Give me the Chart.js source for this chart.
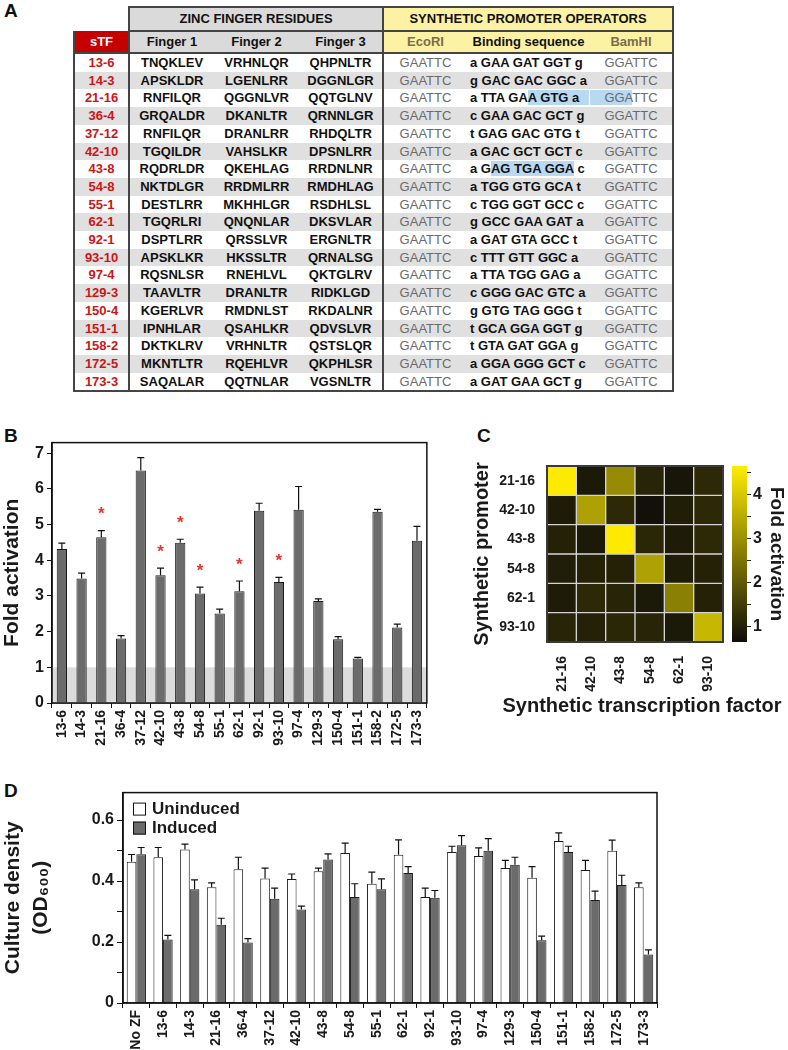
<!DOCTYPE html>
<html>
<head>
<meta charset="utf-8">
<script src="https://cdn.jsdelivr.net/npm/chart.js@4.4.1/dist/chart.umd.min.js"></script>
<style>
body { margin: 0; background: #fff; font-family: 'Liberation Sans', Arial, sans-serif; }
#page { position: relative; width: 788px; height: 1050px; overflow: hidden; }
.lbl { position: absolute; font-weight: bold; font-size: 19px; color: #111; }
canvas { position: absolute; }
#tbl { position: absolute; left: 73px; top: 6px; border-collapse: collapse; table-layout: fixed; font-size: 13px; font-weight: bold; color: #111; }
#tbl td { padding: 0; text-align: center; white-space: nowrap; height: 17.7px; line-height: 17.7px; }
#tbl tr.h1 td { height: 22px; line-height: 22px; }
#tbl tr.h2 td { height: 20px; line-height: 20px; border-bottom: 2px solid #444; }
#tbl td.zf { background: #dadada; }
#tbl td.sp { background: #fdf2a4; }
#tbl tr.h1 td.zf, #tbl tr.h1 td.sp { border: 2px solid #444; }
#tbl td.stf { background: #c40000; color: #fff; }
#tbl td.lb { border-left: 2px solid #444; }
#tbl td.rb { border-right: 2px solid #444; }
#tbl td.name { color: #cc1515; }
#tbl td.site { color: #6a6a6a; font-weight: normal; }
#tbl tr.h2 td.site { color: #7a6c4c; font-weight: bold; }
#tbl td.seq { text-align: left; padding-left: 3px; }
#tbl tr.stripe td { background: #e0e0e0; }
#tbl tr.last td { border-bottom: 2px solid #444; }
.hl { background: #b9d8f2; }
.hlx { background: #b9d8f2; padding-right: 10px; }
.hl2 { background: #b9d8f2; padding-left: 14px; margin-left: -14px; }
</style>
</head>
<body>
<div id="page">
  <div class="lbl" style="left:4px;top:0px;">A</div>
  <div class="lbl" style="left:4px;top:425px;">B</div>
  <div class="lbl" style="left:477px;top:425px;">C</div>
  <div class="lbl" style="left:4px;top:780px;">D</div>
  <table id="tbl"></table>
  <canvas id="chartB" width="436" height="330" style="left:0px;top:430px;"></canvas>
  <canvas id="chartC" width="318" height="280" style="left:470px;top:440px;"></canvas>
  <canvas id="chartBar" width="62" height="215" style="left:726px;top:440px;"></canvas>
  <canvas id="chartD" width="670" height="270" style="left:0px;top:780px;"></canvas>
</div>
<script>
// panel A table
const stfNames = ['13-6', '14-3', '21-16', '36-4', '37-12', '42-10', '43-8', '54-8', '55-1', '62-1',
    '92-1', '93-10', '97-4', '129-3', '150-4', '151-1', '158-2', '172-5', '173-3'];
const finger1 = ['TNQKLEV', 'APSKLDR', 'RNFILQR', 'GRQALDR', 'RNFILQR', 'TGQILDR', 'RQDRLDR', 'NKTDLGR', 'DESTLRR', 'TGQRLRI',
    'DSPTLRR', 'APSKLKR', 'RQSNLSR', 'TAAVLTR', 'KGERLVR', 'IPNHLAR', 'DKTKLRV', 'MKNTLTR', 'SAQALAR'];
const finger2 = ['VRHNLQR', 'LGENLRR', 'QGGNLVR', 'DKANLTR', 'DRANLRR', 'VAHSLKR', 'QKEHLAG', 'RRDMLRR', 'MKHHLGR', 'QNQNLAR',
    'QRSSLVR', 'HKSSLTR', 'RNEHLVL', 'DRANLTR', 'RMDNLST', 'QSAHLKR', 'VRHNLTR', 'RQEHLVR', 'QQTNLAR'];
const finger3 = ['QHPNLTR', 'DGGNLGR', 'QQTGLNV', 'QRNNLGR', 'RHDQLTR', 'DPSNLRR', 'RRDNLNR', 'RMDHLAG', 'RSDHLSL', 'DKSVLAR',
    'ERGNLTR', 'QRNALSG', 'QKTGLRV', 'RIDKLGD', 'RKDALNR', 'QDVSLVR', 'QSTSLQR', 'QKPHLSR', 'VGSNLTR'];
// [..] marks the blue highlighted stretch, (..) one that runs on into the next cell
const bindingSeqs = ['a GAA GAT GGT g', 'g GAC GAC GGC a', 'a TTA GA(A GTG a)', 'c GAA GAC GCT g', 't GAG GAC GTG t',
    'a GAC GCT GCT c', 'a G[AG TGA GGA] c', 'a TGG GTG GCA t', 'c TGG GGT GCC c', 'g GCC GAA GAT a',
    'a GAT GTA GCC t', 'c TTT GTT GGC a', 'a TTA TGG GAG a', 'c GGG GAC GTC a', 'g GTG TAG GGG t',
    't GCA GGA GGT g', 't GTA GAT GGA g', 'a GGA GGG GCT c', 'a GAT GAA GCT g'];
const ecoSites = stfNames.map(() => 'GAATTC');
const bamSites = stfNames.map(n => n === '21-16' ? '{GGA}TTC' : 'GGATTC');
const colWidths = [55, 85, 85, 84, 84, 123, 83];

// panel B
const bLabels = stfNames;
const bFold = [4.32, 3.49, 4.65, 1.81, 6.52, 3.58, 4.49, 3.07, 2.51, 3.13,
    5.39, 3.39, 5.42, 2.86, 1.79, 1.25, 5.36, 2.12, 4.55];
const bSd = [0.16, 0.15, 0.18, 0.08, 0.36, 0.20, 0.10, 0.18, 0.12, 0.29,
    0.21, 0.13, 0.65, 0.06, 0.07, 0.03, 0.07, 0.09, 0.40];
const bSig = [0, 0, 1, 0, 0, 1, 1, 1, 0, 1, 0, 1, 0, 0, 0, 0, 0, 0, 0];
const bTicks = [0, 1, 2, 3, 4, 5, 6, 7];

// panel C
const hmFactors = ['21-16', '42-10', '43-8', '54-8', '62-1', '93-10'];
const hmPromoters = ['21-16', '42-10', '43-8', '54-8', '62-1', '93-10'];
const hmFold = [
    [4.6, 0.85, 2.9, 1.05, 0.8, 1.15],
    [0.9, 3.3, 1.15, 0.7, 0.95, 1.15],
    [1.0, 0.85, 4.6, 1.1, 0.9, 1.15],
    [0.95, 1.0, 1.0, 3.3, 0.9, 1.0],
    [0.9, 1.15, 1.05, 0.85, 2.7, 1.0],
    [1.05, 1.0, 1.1, 1.05, 0.85, 3.7]
];
const cMin = 0.64, cMax = 4.64;
const cTicks = [1, 1.5, 2, 2.5, 3, 3.5, 4, 4.5];

// panel D
const dLabels = ['No ZF'].concat(stfNames);
const dUninduced = [0.463, 0.478, 0.503, 0.380, 0.439, 0.408, 0.407, 0.432, 0.492, 0.391,
    0.486, 0.348, 0.495, 0.482, 0.443, 0.411, 0.531, 0.436, 0.499, 0.380];
const dUninducedSd = [0.024, 0.032, 0.018, 0.014, 0.039, 0.034, 0.016, 0.010, 0.032, 0.038,
    0.049, 0.029, 0.019, 0.027, 0.025, 0.036, 0.027, 0.032, 0.035, 0.014];
const dInduced = [0.488, 0.208, 0.373, 0.257, 0.198, 0.342, 0.307, 0.471, 0.348, 0.373,
    0.426, 0.345, 0.517, 0.499, 0.453, 0.206, 0.495, 0.338, 0.387, 0.159];
const dInducedSd = [0.022, 0.014, 0.031, 0.021, 0.013, 0.035, 0.011, 0.018, 0.043, 0.034,
    0.021, 0.024, 0.032, 0.040, 0.025, 0.013, 0.019, 0.029, 0.032, 0.015];
const dTicks = [0, 0.1, 0.2, 0.3, 0.4, 0.5, 0.6];

function mark(s) {
    return s.replace(/\((.*?)\)/g, '<span class="hlx">$1</span>')
        .replace(/\[(.*?)\]/g, '<span class="hl">$1</span>')
        .replace(/\{(.*?)\}/g, '<span class="hl2">$1</span>');
}

function buildTable() {
    let html = '<colgroup>' + colWidths.map(w => '<col style="width:' + w + 'px">').join('') + '</colgroup>';
    html += '<tr class="h1"><td></td><td colspan="3" class="zf">ZINC FINGER RESIDUES</td>' +
        '<td colspan="3" class="sp">SYNTHETIC PROMOTER OPERATORS</td></tr>';
    html += '<tr class="h2"><td class="stf lb rb">sTF</td><td class="zf">Finger 1</td><td class="zf">Finger 2</td>' +
        '<td class="zf rb">Finger 3</td><td class="sp site">EcoRI</td><td class="sp">Binding sequence</td>' +
        '<td class="sp site rb">BamHI</td></tr>';
    stfNames.forEach((name, i) => {
        let cls = (i % 2 === 1 ? 'stripe' : '') + (i === stfNames.length - 1 ? ' last' : '');
        html += '<tr class="' + cls + '"><td class="name lb rb">' + name + '</td><td>' + finger1[i] + '</td><td>' +
            finger2[i] + '</td><td class="rb">' + finger3[i] + '</td><td class="site">' + ecoSites[i] +
            '</td><td class="seq">' + mark(bindingSeqs[i]) + '</td><td class="site rb">' + mark(bamSites[i]) + '</td></tr>';
    });
    document.getElementById('tbl').innerHTML = html;
}
buildTable();

function heatColor(v) {
    const t = Math.max(0, Math.min(1, (v - cMin) / (cMax - cMin)));
    const lo = [14, 13, 8], hi = [255, 236, 0];
    return 'rgb(' + lo.map((c, k) => Math.round(c + (hi[k] - c) * t)).join(',') + ')';
}

Chart.defaults.font.family = "'Liberation Sans', Arial, sans-serif";
Chart.defaults.font.weight = 'bold';
Chart.defaults.color = '#1a1a1a';
Chart.defaults.animation = false;
Chart.defaults.plugins.legend.display = false;
Chart.defaults.plugins.tooltip.enabled = false;

const frame = {
    id: 'frame',
    afterDraw(chart, args, opts) {
        const a = chart.chartArea, ctx = chart.ctx;
        ctx.save();
        ctx.strokeStyle = opts.color || '#111';
        ctx.lineWidth = opts.width || 1.5;
        ctx.strokeRect(a.left, a.top, a.right - a.left, a.bottom - a.top);
        ctx.restore();
    }
};

const band = {
    id: 'band',
    beforeDatasetsDraw(chart, args, opts) {
        const a = chart.chartArea, y = chart.scales.y, ctx = chart.ctx;
        ctx.save();
        ctx.fillStyle = opts.color;
        ctx.fillRect(a.left, y.getPixelForValue(opts.to), a.right - a.left, y.getPixelForValue(opts.from) - y.getPixelForValue(opts.to));
        ctx.restore();
    }
};

const errorBars = {
    id: 'errorBars',
    afterDatasetsDraw(chart) {
        const ctx = chart.ctx, y = chart.scales.y;
        chart.data.datasets.forEach((ds, di) => {
            if (!ds.sd) return;
            chart.getDatasetMeta(di).data.forEach((bar, i) => {
                const top = y.getPixelForValue(ds.data[i] + ds.sd[i]);
                const cap = 3.5;
                ctx.save();
                ctx.strokeStyle = '#111';
                ctx.lineWidth = 1.2;
                ctx.beginPath();
                ctx.moveTo(bar.x, bar.y);
                ctx.lineTo(bar.x, top);
                ctx.moveTo(bar.x - cap, top);
                ctx.lineTo(bar.x + cap, top);
                ctx.stroke();
                ctx.restore();
            });
        });
    }
};

const stars = {
    id: 'stars',
    afterDatasetsDraw(chart) {
        const ds = chart.data.datasets[0], y = chart.scales.y, ctx = chart.ctx;
        ctx.save();
        ctx.fillStyle = '#e5332f';
        ctx.font = "bold 17px 'Liberation Sans', Arial";
        ctx.textAlign = 'center';
        ctx.textBaseline = 'middle';
        chart.getDatasetMeta(0).data.forEach((bar, i) => {
            if (!ds.sig[i]) return;
            const top = y.getPixelForValue(ds.data[i] + ds.sd[i]);
            ctx.fillText('*', bar.x, top - 16);
        });
        ctx.restore();
    }
};

// x title drawn by hand so it is not squeezed to the plot width
const wideTitle = {
    id: 'wideTitle',
    afterDraw(chart, args, opts) {
        const a = chart.chartArea, ctx = chart.ctx;
        ctx.save();
        ctx.font = "bold 20px 'Liberation Sans', Arial";
        ctx.fillStyle = '#1a1a1a';
        ctx.textAlign = 'center';
        ctx.textBaseline = 'middle';
        ctx.fillText(opts.text, (a.left + a.right) / 2 + opts.dx, a.bottom + opts.dy);
        ctx.restore();
    }
};

const insideLegend = {
    id: 'insideLegend',
    afterDraw(chart) {
        const a = chart.chartArea, ctx = chart.ctx;
        ctx.save();
        ctx.font = "bold 17px 'Liberation Sans', Arial";
        ctx.textBaseline = 'middle';
        chart.data.datasets.forEach((ds, i) => {
            const x = a.left + 10, y = a.top + 10 + i * 19;
            ctx.fillStyle = ds.backgroundColor;
            ctx.fillRect(x, y, 13, 13);
            ctx.strokeStyle = '#111';
            ctx.lineWidth = 1;
            ctx.strokeRect(x + 0.5, y + 0.5, 12, 12);
            ctx.fillStyle = '#1a1a1a';
            ctx.fillText(ds.label, x + 19, y + 7);
        });
        ctx.restore();
    }
};

// B: fold activation
new Chart(document.getElementById('chartB'), {
    type: 'bar',
    data: {
        labels: bLabels,
        datasets: [{
            data: bFold, sd: bSd, sig: bSig,
            backgroundColor: '#6b6b6b', borderColor: '#1a1a1a', borderWidth: 1,
            barPercentage: 0.52, categoryPercentage: 1
        }]
    },
    options: {
        responsive: false,
        devicePixelRatio: 1,
        layout: {padding: {top: 11, right: 8, left: 0, bottom: 0}},
        scales: {
            x: {
                grid: {offset: true, drawOnChartArea: false, tickLength: 5, color: '#111'},
                border: {color: '#111', width: 1.5},
                ticks: {minRotation: 90, maxRotation: 90, autoSkip: false, padding: 2,
                    font: {size: 14, family: "'Liberation Sans Narrow', 'Liberation Sans', Arial"}},
                afterFit(s) { s.height = 57; }
            },
            y: {
                min: 0, max: 7.3,
                grid: {drawOnChartArea: false, tickLength: 5, color: '#111'},
                border: {color: '#111', width: 1.5},
                ticks: {padding: 3, font: {size: 16}},
                afterBuildTicks(s) { s.ticks = bTicks.map(v => ({value: v})); },
                title: {display: true, text: 'Fold activation', font: {size: 21}, padding: 0},
                afterFit(s) { s.width = 52; }
            }
        },
        plugins: {
            band: {from: 0, to: 1, color: '#dcdcdc'},
            frame: {color: '#111', width: 1.5}
        }
    },
    plugins: [band, errorBars, stars, frame]
});

// C: heatmap, one stacked dataset per promoter row
const hmDatasets = hmPromoters.slice().reverse().map(p => {
    const row = hmFold[hmPromoters.indexOf(p)];
    return {
        label: p, data: row.map(() => 1), heat: row,
        backgroundColor: row.map(heatColor), borderColor: '#d4d4d4', borderWidth: 1,
        borderSkipped: false, barPercentage: 1, categoryPercentage: 1
    };
});

new Chart(document.getElementById('chartC'), {
    type: 'bar',
    data: {labels: hmFactors, datasets: hmDatasets},
    options: {
        responsive: false,
        devicePixelRatio: 1,
        layout: {padding: {top: 26, right: 65, left: 0, bottom: 0}},
        scales: {
            x: {
                stacked: true,
                grid: {display: false},
                border: {display: false},
                ticks: {minRotation: 90, maxRotation: 90, autoSkip: false, padding: 6, font: {size: 14}},
                afterFit(s) { s.height = 78; }
            },
            y: {
                stacked: true, min: 0, max: hmPromoters.length,
                grid: {display: false},
                border: {display: false},
                afterBuildTicks(s) { s.ticks = hmPromoters.map((p, i) => ({value: i + 0.5})); },
                ticks: {padding: 4, font: {size: 14},
                    callback: v => hmPromoters[hmPromoters.length - 1 - Math.floor(v)]},
                title: {display: true, text: 'Synthetic promoter', font: {size: 20}, padding: 0},
                afterFit(s) { s.width = 77; }
            }
        },
        plugins: {
            frame: {color: '#3a3a3a', width: 2},
            wideTitle: {text: 'Synthetic transcription factor', dx: 7, dy: 64}
        }
    },
    plugins: [frame, wideTitle]
});

// C: colour bar
new Chart(document.getElementById('chartBar'), {
    type: 'bar',
    data: {
        labels: [''],
        datasets: [{
            data: [[cMin, cMax]],
            backgroundColor(ctx) {
                const a = ctx.chart.chartArea;
                if (!a) return '#000';
                const g = ctx.chart.ctx.createLinearGradient(0, a.bottom, 0, a.top);
                for (let k = 0; k <= 10; k++) {
                    g.addColorStop(k / 10, heatColor(cMin + (cMax - cMin) * k / 10));
                }
                return g;
            },
            borderWidth: 0, barPercentage: 1, categoryPercentage: 1
        }]
    },
    options: {
        responsive: false,
        devicePixelRatio: 1,
        layout: {padding: {top: 26, left: 6, right: 0, bottom: 13}},
        scales: {
            x: {display: false},
            y: {
                position: 'right', min: cMin, max: cMax,
                grid: {drawOnChartArea: false, tickLength: 4, color: '#222'},
                border: {display: false},
                afterBuildTicks(s) { s.ticks = cTicks.map(v => ({value: v})); },
                ticks: {padding: 2, font: {size: 16}, callback: v => Number.isInteger(v) ? v : ''},
                title: {display: true, text: 'Fold activation', font: {size: 19}, padding: 0},
                afterFit(s) { s.width = 41; }
            }
        }
    }
});

// D: culture density
new Chart(document.getElementById('chartD'), {
    type: 'bar',
    data: {
        labels: dLabels,
        datasets: [
            {label: 'Uninduced', data: dUninduced, sd: dUninducedSd, backgroundColor: '#ffffff',
                borderColor: '#1a1a1a', borderWidth: 1, barPercentage: 1, categoryPercentage: 0.72},
            {label: 'Induced', data: dInduced, sd: dInducedSd, backgroundColor: '#6b6b6b',
                borderColor: '#1a1a1a', borderWidth: 1, barPercentage: 1, categoryPercentage: 0.72}
        ]
    },
    options: {
        responsive: false,
        devicePixelRatio: 1,
        layout: {padding: {top: 12, right: 13, left: 0, bottom: 0}},
        scales: {
            x: {
                grid: {offset: true, drawOnChartArea: false, tickLength: 5, color: '#111'},
                border: {color: '#111', width: 1.5},
                ticks: {minRotation: 90, maxRotation: 90, autoSkip: false, padding: 2, font: {size: 14}},
                afterFit(s) { s.height = 47; }
            },
            y: {
                min: 0, max: 0.69,
                grid: {drawOnChartArea: false, tickLength: 6, color: '#111'},
                border: {color: '#111', width: 1.5},
                afterBuildTicks(s) { s.ticks = dTicks.map(v => ({value: v})); },
                ticks: {padding: 3, font: {size: 16},
                    callback: v => Math.round(v * 10) % 2 === 0 ? (v === 0 ? '0' : v.toFixed(1)) : ''},
                title: {display: true, text: ['Culture density', '(OD₆₀₀)'], font: {size: 21, lineHeight: 1.3}, padding: 0},
                afterFit(s) { s.width = 123; }
            }
        },
        plugins: {frame: {color: '#111', width: 1.5}}
    },
    plugins: [errorBars, insideLegend, frame]
});
</script>
</body>
</html>
